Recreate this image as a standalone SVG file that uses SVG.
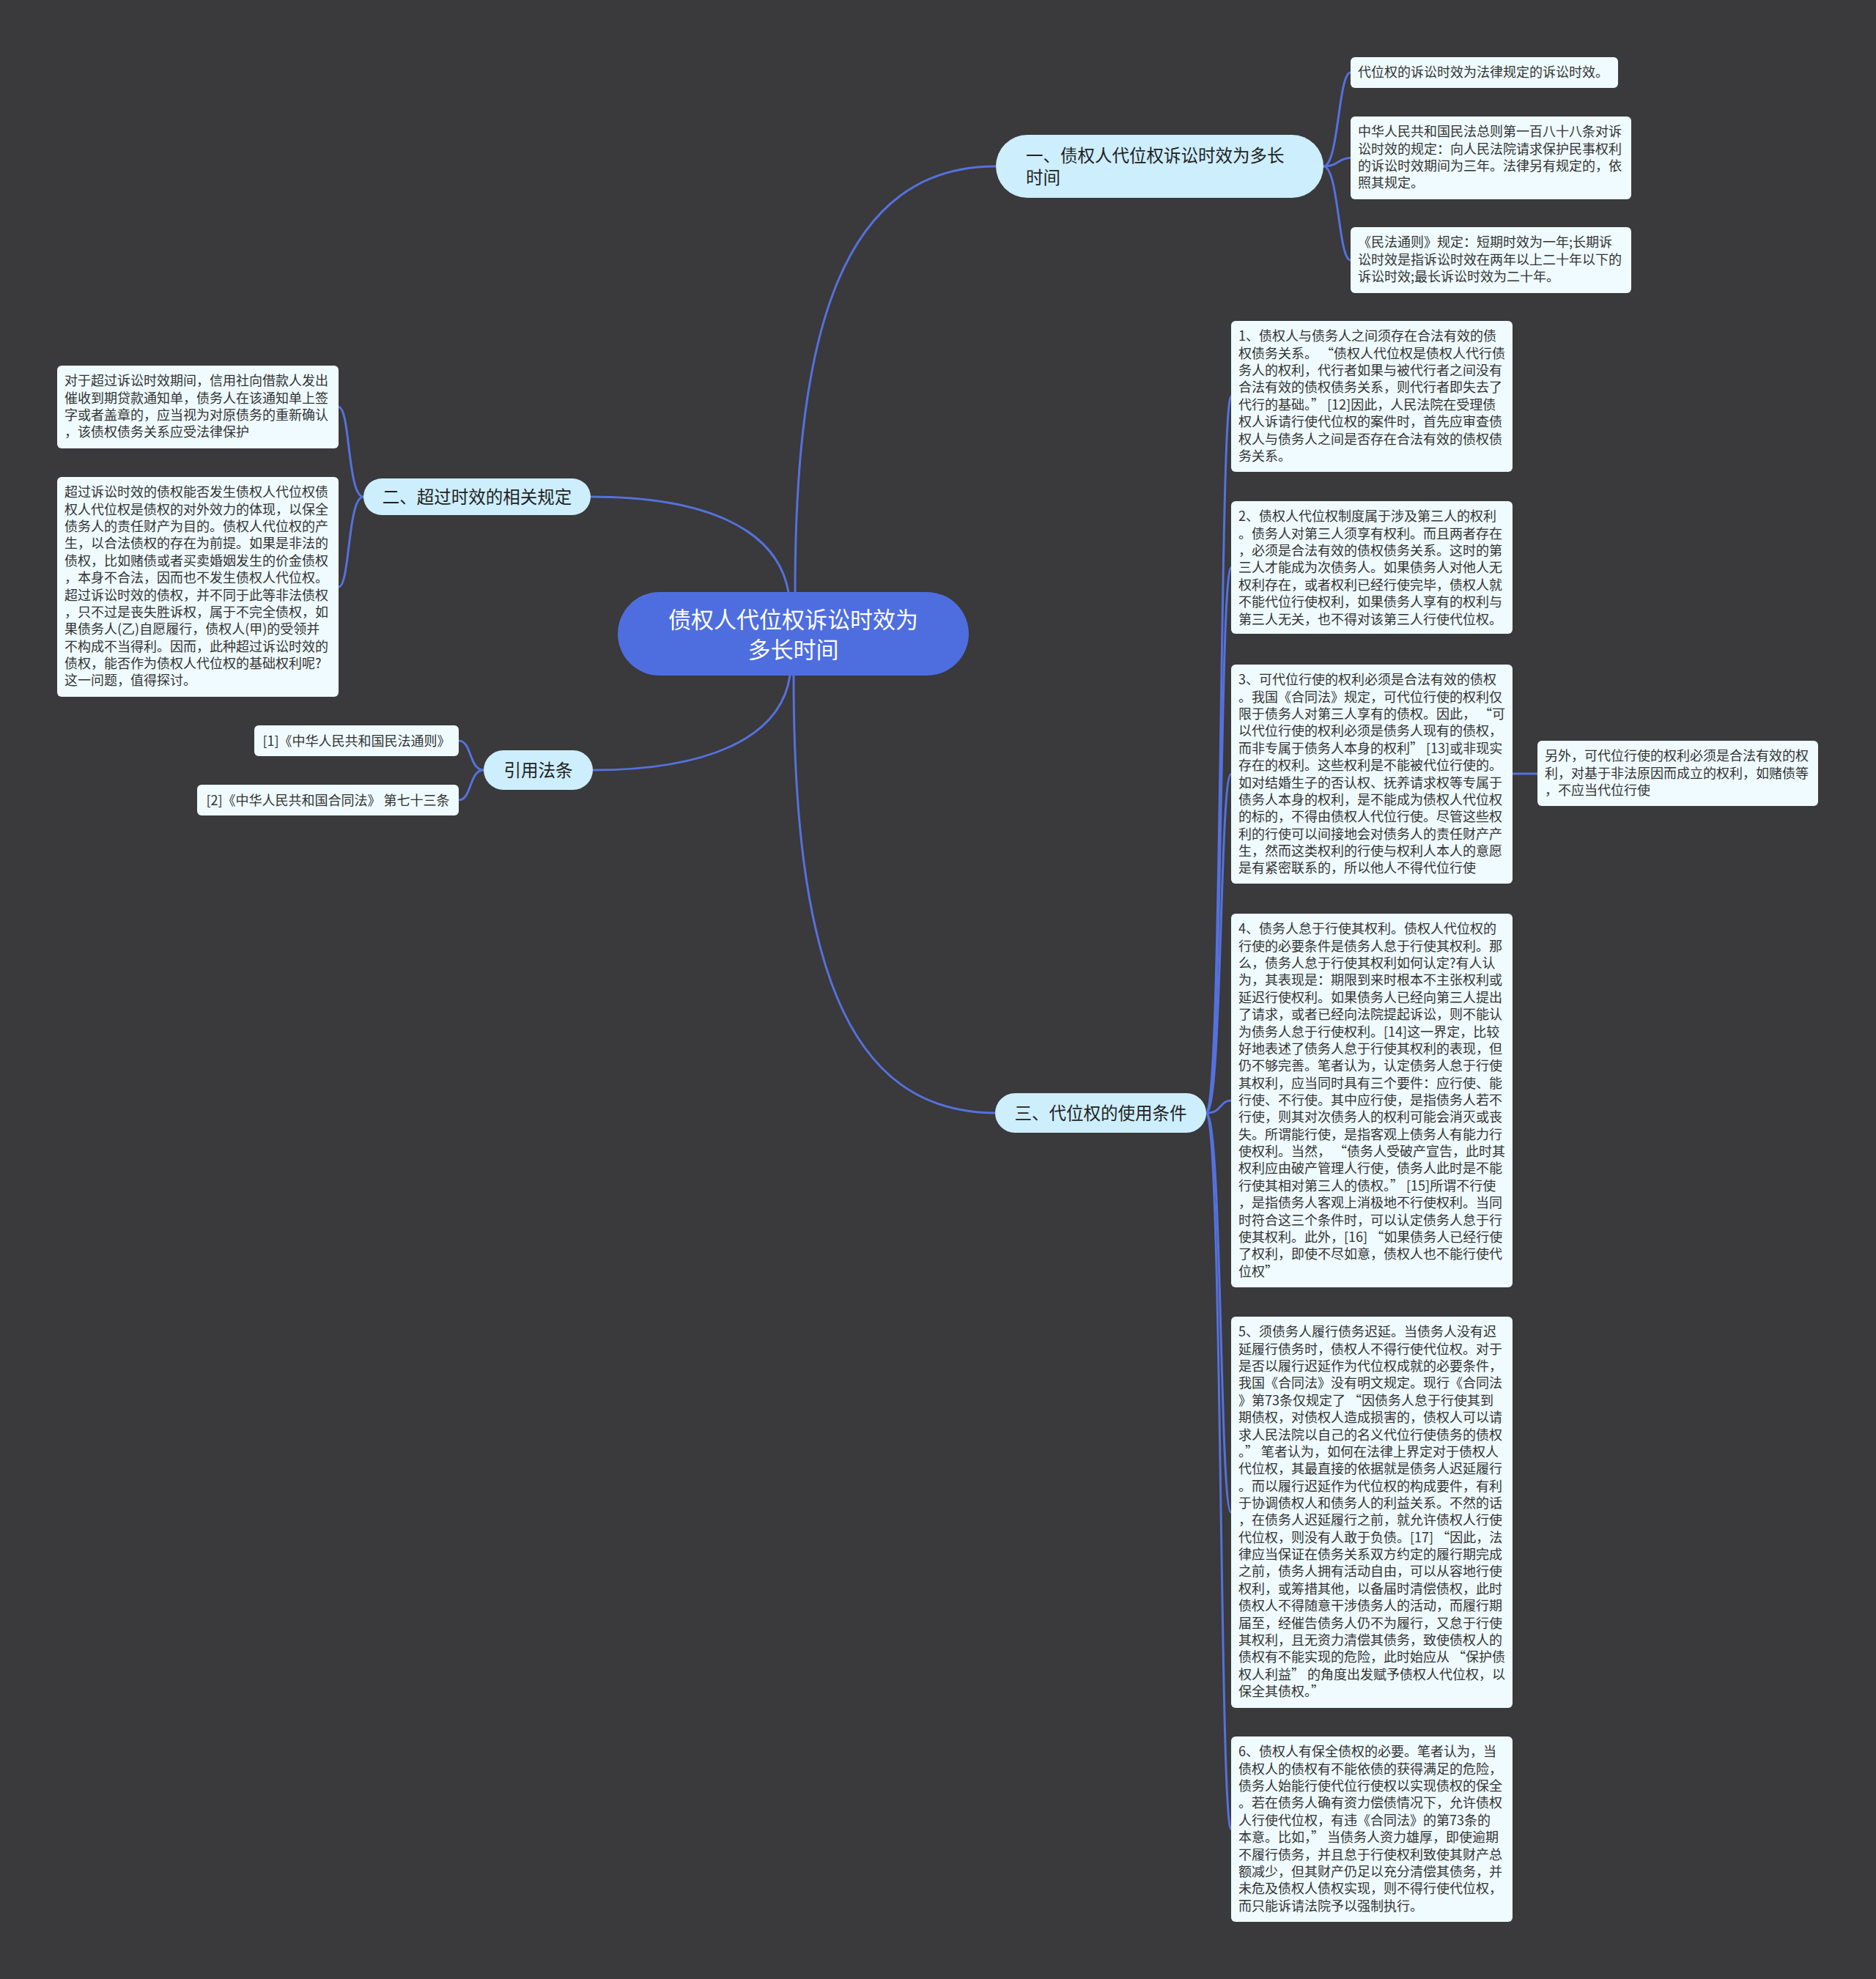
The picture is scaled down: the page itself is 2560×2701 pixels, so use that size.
<svg xmlns="http://www.w3.org/2000/svg" width="2560" height="2701" viewBox="0 0 2560 2701">
<style>
.conn{fill:none;stroke:#5571dc;stroke-width:3;stroke-linecap:round}
.leaf{fill:#effbfe}
.br{fill:#cdeefd}
.ctr{fill:#4e6ee0}
text{font-family:"Noto Sans CJK SC","Noto Sans",sans-serif}
.lt{font-size:18px;fill:#333333}
.ltc{font-size:18px;fill:#333333;text-anchor:middle}
.bt{font-size:23.5px;fill:#222222}
.btc{font-size:23.5px;fill:#222222;text-anchor:middle}
.ct{font-size:31px;fill:#ffffff;text-anchor:middle}
</style>
<rect x="0" y="0" width="2560" height="2701" fill="#3a393b"/>

<g id="connectors">
<path class="conn" d="M1085 808 C1085 450 1150 227 1359 227"/>
<path class="conn" d="M1076 808 C1060 720 960 678 806 678"/>
<path class="conn" d="M1078 922 C1065 1010 960 1051 809 1051"/>
<path class="conn" d="M1083 922 C1083 1300 1150 1519 1359 1519"/>
<path class="conn" d="M1806 227 C1827 227 1826 99 1843 99"/>
<path class="conn" d="M1806 227 C1827 227 1826 215.5 1843 215.5"/>
<path class="conn" d="M1806 227 C1827 227 1826 355 1843 355"/>
<path class="conn" d="M496 678 C474 678 478 555.5 462 555.5"/>
<path class="conn" d="M496 678 C474 678 478 801 462 801"/>
<path class="conn" d="M660 1051 C640 1051 644 1011 626 1011"/>
<path class="conn" d="M660 1051 C640 1051 644 1092 626 1092"/>
<path class="conn" d="M1646 1519 C1668 1519 1664 541 1680 541"/>
<path class="conn" d="M1646 1519 C1668 1519 1664 774.5 1680 774.5"/>
<path class="conn" d="M1646 1519 C1668 1519 1664 1056.5 1680 1056.5"/>
<path class="conn" d="M1646 1519 C1668 1519 1664 1502 1680 1502"/>
<path class="conn" d="M1646 1519 C1668 1519 1664 2064 1680 2064"/>
<path class="conn" d="M1646 1519 C1668 1519 1664 2496.5 1680 2496.5"/>
<path class="conn" d="M2064 1056 L2098 1056"/>
</g>

<g id="center">
<rect class="ctr" x="843" y="808" width="479" height="114" rx="57"/>
<text class="ct" x="1082.5" y="856.8">债权人代位权诉讼时效为</text>
<text class="ct" x="1082.5" y="897.8">多长时间</text>
</g>

<g id="branch1">
<rect class="br" x="1359" y="184" width="447" height="86" rx="43"/>
<text class="bt" x="1400" y="220.5">一、债权人代位权诉讼时效为多长</text>
<text class="bt" x="1400" y="250.5">时间</text>
</g>

<g id="branch2">
<rect class="br" x="496" y="653" width="310" height="50" rx="25"/>
<text class="btc" x="651" y="686.9">二、超过时效的相关规定</text>
</g>

<g id="branch3">
<rect class="br" x="660" y="1024" width="149" height="54" rx="27"/>
<text class="btc" x="734.5" y="1060">引用法条</text>
</g>

<g id="branch4">
<rect class="br" x="1358" y="1492" width="288" height="54" rx="27"/>
<text class="btc" x="1502" y="1528">三、代位权的使用条件</text>
</g>

<g id="leaf-tr-a">
<rect class="leaf" x="1843" y="78" width="365" height="42" rx="6"/>
<text class="lt" x="1853" y="105.3">代位权的诉讼时效为法律规定的诉讼时效。</text>
</g>

<g id="leaf-tr-b">
<rect class="leaf" x="1843" y="159" width="383" height="113" rx="6"/>
<text class="lt" x="1853" y="186.3"><tspan x="1853">中华人民共和国民法总则第一百八十八条对诉</tspan><tspan x="1853" dy="23.37">讼时效的规定：向人民法院请求保护民事权利</tspan><tspan x="1853" dy="23.37">的诉讼时效期间为三年。法律另有规定的，依</tspan><tspan x="1853" dy="23.37">照其规定。</tspan></text>
</g>

<g id="leaf-tr-c">
<rect class="leaf" x="1843" y="310" width="383" height="90" rx="6"/>
<text class="lt" x="1853" y="337.3"><tspan x="1853">《民法通则》规定：短期时效为一年;长期诉</tspan><tspan x="1853" dy="23.37">讼时效是指诉讼时效在两年以上二十年以下的</tspan><tspan x="1853" dy="23.37">诉讼时效;最长诉讼时效为二十年。</tspan></text>
</g>

<g id="leaf-l1">
<rect class="leaf" x="78" y="499" width="384" height="113" rx="6"/>
<text class="lt" x="88" y="526.3"><tspan x="88">对于超过诉讼时效期间，信用社向借款人发出</tspan><tspan x="88" dy="23.37">催收到期贷款通知单，债务人在该通知单上签</tspan><tspan x="88" dy="23.37">字或者盖章的，应当视为对原债务的重新确认</tspan><tspan x="88" dy="23.37">，该债权债务关系应受法律保护</tspan></text>
</g>

<g id="leaf-l2">
<rect class="leaf" x="78" y="651" width="384" height="300" rx="6"/>
<text class="lt" x="88" y="678.3"><tspan x="88">超过诉讼时效的债权能否发生债权人代位权债</tspan><tspan x="88" dy="23.37">权人代位权是债权的对外效力的体现，以保全</tspan><tspan x="88" dy="23.37">债务人的责任财产为目的。债权人代位权的产</tspan><tspan x="88" dy="23.37">生，以合法债权的存在为前提。如果是非法的</tspan><tspan x="88" dy="23.37">债权，比如赌债或者买卖婚姻发生的价金债权</tspan><tspan x="88" dy="23.37">，本身不合法，因而也不发生债权人代位权。</tspan><tspan x="88" dy="23.37">超过诉讼时效的债权，并不同于此等非法债权</tspan><tspan x="88" dy="23.37">，只不过是丧失胜诉权，属于不完全债权，如</tspan><tspan x="88" dy="23.37">果债务人(乙)自愿履行，债权人(甲)的受领并</tspan><tspan x="88" dy="23.37">不构成不当得利。因而，此种超过诉讼时效的</tspan><tspan x="88" dy="23.37">债权，能否作为债权人代位权的基础权利呢?</tspan><tspan x="88" dy="23.37">这一问题，值得探讨。</tspan></text>
</g>

<g id="leaf-c1">
<rect class="leaf" x="347" y="990" width="279" height="42" rx="6"/>
<text class="ltc" x="486.5" y="1017.6">[1]《中华人民共和国民法通则》</text>
</g>

<g id="leaf-c2">
<rect class="leaf" x="269" y="1071" width="357" height="42" rx="6"/>
<text class="ltc" x="447.5" y="1098.6">[2]《中华人民共和国合同法》 第七十三条</text>
</g>

<g id="leaf-r1">
<rect class="leaf" x="1680" y="438" width="384" height="206" rx="6"/>
<text class="lt" x="1690" y="465.3"><tspan x="1690">1、债权人与债务人之间须存在合法有效的债</tspan><tspan x="1690" dy="23.37">权债务关系。 “债权人代位权是债权人代行债</tspan><tspan x="1690" dy="23.37">务人的权利，代行者如果与被代行者之间没有</tspan><tspan x="1690" dy="23.37">合法有效的债权债务关系，则代行者即失去了</tspan><tspan x="1690" dy="23.37">代行的基础。” [12]因此，人民法院在受理债</tspan><tspan x="1690" dy="23.37">权人诉请行使代位权的案件时，首先应审查债</tspan><tspan x="1690" dy="23.37">权人与债务人之间是否存在合法有效的债权债</tspan><tspan x="1690" dy="23.37">务关系。</tspan></text>
</g>

<g id="leaf-r2">
<rect class="leaf" x="1680" y="684" width="384" height="181" rx="6"/>
<text class="lt" x="1690" y="711.3"><tspan x="1690">2、债权人代位权制度属于涉及第三人的权利</tspan><tspan x="1690" dy="23.37">。债务人对第三人须享有权利。而且两者存在</tspan><tspan x="1690" dy="23.37">，必须是合法有效的债权债务关系。这时的第</tspan><tspan x="1690" dy="23.37">三人才能成为次债务人。如果债务人对他人无</tspan><tspan x="1690" dy="23.37">权利存在，或者权利已经行使完毕，债权人就</tspan><tspan x="1690" dy="23.37">不能代位行使权利，如果债务人享有的权利与</tspan><tspan x="1690" dy="23.37">第三人无关，也不得对该第三人行使代位权。</tspan></text>
</g>

<g id="leaf-r3">
<rect class="leaf" x="1680" y="907" width="384" height="299" rx="6"/>
<text class="lt" x="1690" y="934.3"><tspan x="1690">3、可代位行使的权利必须是合法有效的债权</tspan><tspan x="1690" dy="23.37">。我国《合同法》规定，可代位行使的权利仅</tspan><tspan x="1690" dy="23.37">限于债务人对第三人享有的债权。因此， “可</tspan><tspan x="1690" dy="23.37">以代位行使的权利必须是债务人现有的债权，</tspan><tspan x="1690" dy="23.37">而非专属于债务人本身的权利” [13]或非现实</tspan><tspan x="1690" dy="23.37">存在的权利。这些权利是不能被代位行使的。</tspan><tspan x="1690" dy="23.37">如对结婚生子的否认权、抚养请求权等专属于</tspan><tspan x="1690" dy="23.37">债务人本身的权利，是不能成为债权人代位权</tspan><tspan x="1690" dy="23.37">的标的，不得由债权人代位行使。尽管这些权</tspan><tspan x="1690" dy="23.37">利的行使可以间接地会对债务人的责任财产产</tspan><tspan x="1690" dy="23.37">生，然而这类权利的行使与权利人本人的意愿</tspan><tspan x="1690" dy="23.37">是有紧密联系的，所以他人不得代位行使</tspan></text>
</g>

<g id="leaf-side">
<rect class="leaf" x="2098" y="1011" width="383" height="89" rx="6"/>
<text class="lt" x="2108" y="1038.3"><tspan x="2108">另外，可代位行使的权利必须是合法有效的权</tspan><tspan x="2108" dy="23.37">利，对基于非法原因而成立的权利，如赌债等</tspan><tspan x="2108" dy="23.37">，不应当代位行使</tspan></text>
</g>

<g id="leaf-r4">
<rect class="leaf" x="1680" y="1247" width="384" height="510" rx="6"/>
<text class="lt" x="1690" y="1274.3"><tspan x="1690">4、债务人怠于行使其权利。债权人代位权的</tspan><tspan x="1690" dy="23.37">行使的必要条件是债务人怠于行使其权利。那</tspan><tspan x="1690" dy="23.37">么，债务人怠于行使其权利如何认定?有人认</tspan><tspan x="1690" dy="23.37">为，其表现是：期限到来时根本不主张权利或</tspan><tspan x="1690" dy="23.37">延迟行使权利。如果债务人已经向第三人提出</tspan><tspan x="1690" dy="23.37">了请求，或者已经向法院提起诉讼，则不能认</tspan><tspan x="1690" dy="23.37">为债务人怠于行使权利。[14]这一界定，比较</tspan><tspan x="1690" dy="23.37">好地表述了债务人怠于行使其权利的表现，但</tspan><tspan x="1690" dy="23.37">仍不够完善。笔者认为，认定债务人怠于行使</tspan><tspan x="1690" dy="23.37">其权利，应当同时具有三个要件：应行使、能</tspan><tspan x="1690" dy="23.37">行使、不行使。其中应行使，是指债务人若不</tspan><tspan x="1690" dy="23.37">行使，则其对次债务人的权利可能会消灭或丧</tspan><tspan x="1690" dy="23.37">失。所谓能行使，是指客观上债务人有能力行</tspan><tspan x="1690" dy="23.37">使权利。当然， “债务人受破产宣告，此时其</tspan><tspan x="1690" dy="23.37">权利应由破产管理人行使，债务人此时是不能</tspan><tspan x="1690" dy="23.37">行使其相对第三人的债权。” [15]所谓不行使</tspan><tspan x="1690" dy="23.37">，是指债务人客观上消极地不行使权利。当同</tspan><tspan x="1690" dy="23.37">时符合这三个条件时，可以认定债务人怠于行</tspan><tspan x="1690" dy="23.37">使其权利。此外，[16] “如果债务人已经行使</tspan><tspan x="1690" dy="23.37">了权利，即使不尽如意，债权人也不能行使代</tspan><tspan x="1690" dy="23.37">位权”</tspan></text>
</g>

<g id="leaf-r5">
<rect class="leaf" x="1680" y="1797" width="384" height="534" rx="6"/>
<text class="lt" x="1690" y="1824.3"><tspan x="1690">5、须债务人履行债务迟延。当债务人没有迟</tspan><tspan x="1690" dy="23.37">延履行债务时，债权人不得行使代位权。对于</tspan><tspan x="1690" dy="23.37">是否以履行迟延作为代位权成就的必要条件，</tspan><tspan x="1690" dy="23.37">我国《合同法》没有明文规定。现行《合同法</tspan><tspan x="1690" dy="23.37">》第73条仅规定了 “因债务人怠于行使其到</tspan><tspan x="1690" dy="23.37">期债权，对债权人造成损害的，债权人可以请</tspan><tspan x="1690" dy="23.37">求人民法院以自己的名义代位行使债务的债权</tspan><tspan x="1690" dy="23.37">。” 笔者认为，如何在法律上界定对于债权人</tspan><tspan x="1690" dy="23.37">代位权，其最直接的依据就是债务人迟延履行</tspan><tspan x="1690" dy="23.37">。而以履行迟延作为代位权的构成要件，有利</tspan><tspan x="1690" dy="23.37">于协调债权人和债务人的利益关系。不然的话</tspan><tspan x="1690" dy="23.37">，在债务人迟延履行之前，就允许债权人行使</tspan><tspan x="1690" dy="23.37">代位权，则没有人敢于负债。[17] “因此，法</tspan><tspan x="1690" dy="23.37">律应当保证在债务关系双方约定的履行期完成</tspan><tspan x="1690" dy="23.37">之前，债务人拥有活动自由，可以从容地行使</tspan><tspan x="1690" dy="23.37">权利，或筹措其他，以备届时清偿债权，此时</tspan><tspan x="1690" dy="23.37">债权人不得随意干涉债务人的活动，而履行期</tspan><tspan x="1690" dy="23.37">届至，经催告债务人仍不为履行，又怠于行使</tspan><tspan x="1690" dy="23.37">其权利，且无资力清偿其债务，致使债权人的</tspan><tspan x="1690" dy="23.37">债权有不能实现的危险，此时始应从 “保护债</tspan><tspan x="1690" dy="23.37">权人利益” 的角度出发赋予债权人代位权，以</tspan><tspan x="1690" dy="23.37">保全其债权。”</tspan></text>
</g>

<g id="leaf-r6">
<rect class="leaf" x="1680" y="2370" width="384" height="253" rx="6"/>
<text class="lt" x="1690" y="2397.3"><tspan x="1690">6、债权人有保全债权的必要。笔者认为，当</tspan><tspan x="1690" dy="23.37">债权人的债权有不能依债的获得满足的危险，</tspan><tspan x="1690" dy="23.37">债务人始能行使代位行使权以实现债权的保全</tspan><tspan x="1690" dy="23.37">。若在债务人确有资力偿债情况下，允许债权</tspan><tspan x="1690" dy="23.37">人行使代位权，有违《合同法》的第73条的</tspan><tspan x="1690" dy="23.37">本意。比如，” 当债务人资力雄厚，即使逾期</tspan><tspan x="1690" dy="23.37">不履行债务，并且怠于行使权利致使其财产总</tspan><tspan x="1690" dy="23.37">额减少，但其财产仍足以充分清偿其债务，并</tspan><tspan x="1690" dy="23.37">未危及债权人债权实现，则不得行使代位权，</tspan><tspan x="1690" dy="23.37">而只能诉请法院予以强制执行。</tspan></text>
</g>
</svg>
